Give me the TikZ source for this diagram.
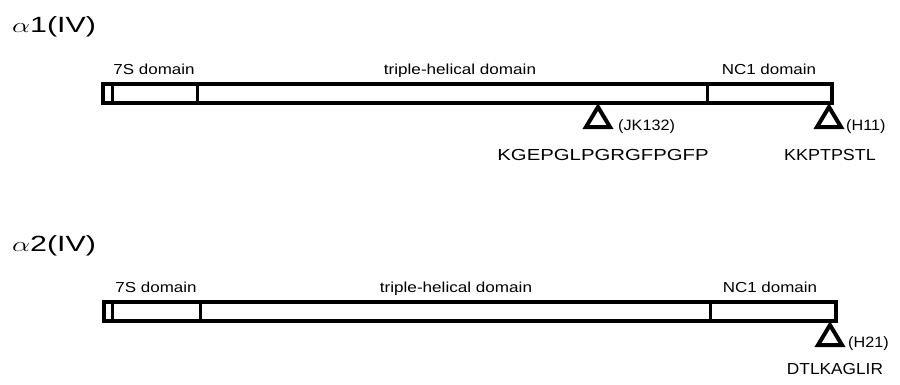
\documentclass[tikz,border=0pt]{standalone}
\usepackage{fontspec}
\setmainfont{Liberation Sans}
\usepackage{graphicx}
\newcommand{\sx}[2]{\scalebox{#1}[1]{#2}}
\begin{document}
\begin{tikzpicture}[x=1pt,y=-1pt,
  lab/.style={font=\fontsize{14.5}{14.5}\selectfont, inner sep=0pt, anchor=base},
  seq/.style={font=\fontsize{16}{16}\selectfont, inner sep=0pt, anchor=base},
  ab/.style={font=\fontsize{15}{15}\selectfont, inner sep=0pt, anchor=west},
  ttl/.style={font=\fontsize{22}{22}\selectfont, inner sep=0pt, anchor=west},
  barline/.style={line width=3.5pt},
  divline/.style={line width=3pt},
  tri/.style={line width=4pt, fill=white, line join=miter}
]
\useasboundingbox (0,0) rectangle (900,384);
\fill[white] (0,0) rectangle (900,384);

% ---------- alpha1(IV) ----------
\node[ttl] (title1) at (12,27) {\sx{1.38}{$\alpha$1(IV)}};
\node[lab] (l11) at (154,74) {\sx{1.17}{7S domain}};
\node[lab] (l12) at (460,74) {\sx{1.18}{triple-helical domain}};
\node[lab] (l13) at (769,74) {\sx{1.17}{NC1 domain}};

\draw[barline] (103,84) rectangle (832,103);
\draw[divline] (112,84) -- (112,103);
\draw[divline] (197,84) -- (197,103);
\draw[divline] (707,84) -- (707,103);

\coordinate (tA) at (598,107);
\coordinate (tB) at (829,107);
\draw[tri] (tA) -- ++(-12,20) -- ++(24,0) -- cycle;
\draw[tri] (tB) -- ++(-12,20) -- ++(24,0) -- cycle;
\node[ab] (jk) at (618,127) {\sx{1.08}{(JK132)}};
\node[ab] (h11) at (846,127) {\sx{1.08}{(H11)}};
\node[seq] (s1) at (603,160) {\sx{1.27}{KGEPGLPGRGFPGFP}};
\node[seq] (s2) at (830,160) {\sx{1.12}{KKPTPSTL}};

% ---------- alpha2(IV) ----------
\node[ttl] (title2) at (12,246) {\sx{1.38}{$\alpha$2(IV)}};
\node[lab] (l21) at (156,292) {\sx{1.17}{7S domain}};
\node[lab] (l22) at (456,292) {\sx{1.18}{triple-helical domain}};
\node[lab] (l23) at (770,292) {\sx{1.17}{NC1 domain}};

\draw[barline] (104,302) rectangle (836,321);
\draw[divline] (112,302) -- (112,321);
\draw[divline] (200,302) -- (200,321);
\draw[divline] (710,302) -- (710,321);

\coordinate (tC) at (830,325);
\draw[tri] (tC) -- ++(-12,20) -- ++(24,0) -- cycle;
\node[ab] (h21) at (848,344) {\sx{1.08}{(H21)}};
\node[seq] (s3) at (835,374) {\sx{1.08}{DTLKAGLIR}};
\end{tikzpicture}
\end{document}
